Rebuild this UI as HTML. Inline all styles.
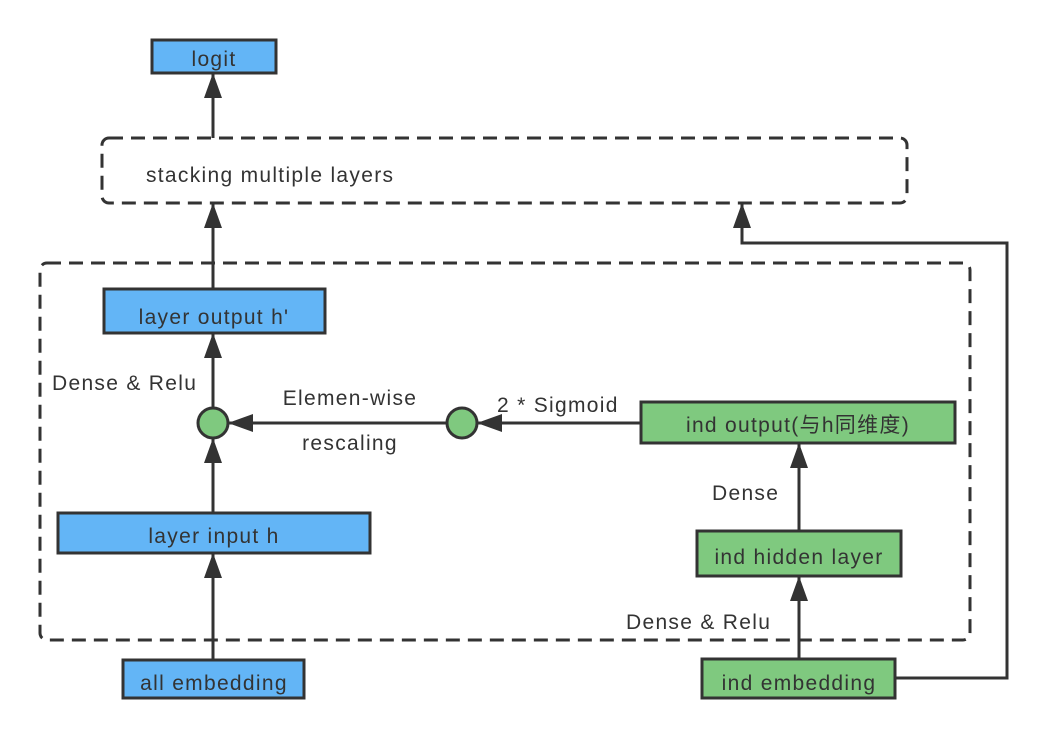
<!DOCTYPE html>
<html><head><meta charset="utf-8"><style>
html,body{margin:0;padding:0;background:#fff;}
text{font-family:"Liberation Sans","Noto Sans CJK SC",sans-serif;font-size:21px;letter-spacing:1.3px;fill:#333;}
</style></head><body>
<svg width="1048" height="738" viewBox="0 0 1048 738" xmlns="http://www.w3.org/2000/svg">
<defs>
<marker id="b" markerWidth="26" markerHeight="18" refX="24" refY="9" orient="auto" markerUnits="userSpaceOnUse"><path d="M0,0 L25,9 L0,18 z" fill="#333"/></marker></defs>
<g fill="none" stroke="#333" stroke-width="3" stroke-dasharray="14,8">
<rect x="102" y="138" width="805" height="65" rx="7"/>
<rect x="40" y="263" width="930" height="377" rx="7"/>
</g>
<g stroke="#333" stroke-width="3">
<rect x="152" y="40" width="124" height="33" fill="#63b5f6"/>
<rect x="104" y="289" width="221" height="44" fill="#63b5f6"/>
<rect x="58" y="513" width="312" height="40" fill="#63b5f6"/>
<rect x="123" y="660" width="181" height="38" fill="#63b5f6"/>
<rect x="641" y="402" width="314" height="41" fill="#7fc97f"/>
<rect x="697" y="531" width="204" height="45" fill="#7fc97f"/>
<rect x="702" y="659" width="193" height="39" fill="#7fc97f"/>
</g>
<g stroke="#333" stroke-width="3" fill="none" marker-end="url(#b)">
<line x1="213" y1="138" x2="213" y2="74"/>
<line x1="213" y1="289" x2="213" y2="204"/>
<line x1="213" y1="408" x2="213" y2="334"/>
<line x1="213" y1="513" x2="213" y2="439"/>
<line x1="213" y1="660" x2="213" y2="554"/>
<line x1="447" y1="423" x2="229" y2="423"/>
<line x1="641" y1="423" x2="478" y2="423"/>
<line x1="799" y1="531" x2="799" y2="444"/>
<line x1="799" y1="659" x2="799" y2="577"/>
<polyline points="895,678 1007,678 1007,243 742,243 742,204"/>
</g>
<circle cx="213" cy="423" r="15" fill="#7fc97f" stroke="#333" stroke-width="3"/>
<circle cx="462" cy="423" r="15" fill="#7fc97f" stroke="#333" stroke-width="3"/>
<g text-anchor="middle">
<text x="214" y="66">logit</text>
<text x="214" y="324">layer output h'</text>
<text x="214" y="543">layer input h</text>
<text x="214" y="690">all embedding</text>
<text x="798" y="432">ind output(与h同维度)</text>
<text x="799" y="564">ind hidden layer</text>
<text x="799" y="690">ind embedding</text>
<text x="350" y="405">Elemen-wise</text>
<text x="350" y="450">rescaling</text>
</g>
<text x="146" y="182">stacking multiple layers</text>
<text x="52" y="390">Dense &amp; Relu</text>
<text x="497" y="412">2 * Sigmoid</text>
<text x="712" y="500">Dense</text>
<text x="626" y="629">Dense &amp; Relu</text>
</svg>
</body></html>
